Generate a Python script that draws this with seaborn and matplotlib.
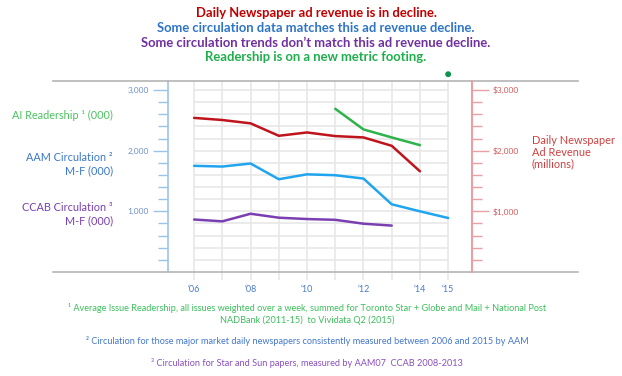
import numpy as np
import pandas as pd
import matplotlib
matplotlib.use("Agg")
import matplotlib.pyplot as plt
from matplotlib.ticker import FixedLocator
import seaborn as sns

# values (000s / $ millions, same scale)
years_adrev = [2006, 2007, 2008, 2009, 2010, 2011, 2012, 2013, 2014]
ad_revenue = [2540, 2505, 2450, 2245, 2300, 2240, 2218, 2080, 1660]

years_aam = [2006, 2007, 2008, 2009, 2010, 2011, 2012, 2013, 2014, 2015]
aam_circ = [1750, 1738, 1788, 1529, 1610, 1595, 1540, 1116, 1000, 890]

years_ccab = [2006, 2007, 2008, 2009, 2010, 2011, 2012, 2013]
ccab_circ = [865, 835, 960, 895, 873, 860, 796, 765]

years_read = [2011, 2012, 2013, 2014]
readership = [2690, 2350, 2218, 2091]

years_vivi = [2015]
readership_vivi = [3260]

year_ticks = [2006, 2007, 2008, 2009, 2010, 2011, 2012, 2013, 2014, 2015]
year_labels = ["\u201806", "", "\u201808", "", "\u201810", "", "\u201812", "", "\u201814", "\u201815"]
left_major = [1000, 2000, 3000]
left_labels = ["1,000", "2,000", "3,000"]
right_labels = ["$1,000", "$2,000", "$3,000"]

titles = [
    ("Daily Newspaper ad revenue is in decline.", "#c00000"),
    ("Some circulation data matches this ad revenue decline.", "#2e75c6"),
    ("Some circulation trends don\u2019t match this ad revenue decline.", "#7030a0"),
    ("Readership is on a new metric footing.", "#1fae4b"),
]
footnotes = [
    "\u00b9 Average Issue Readership, all issues weighted over a week, summed for Toronto Star + Globe and Mail + National Post\n"
    "NADBank (2011-15)  to Vividata Q2 (2015)",
    "\u00b2 Circulation for those major market daily newspapers consistently measured between 2006 and 2015 by AAM",
    "\u00b3 Circulation for Star and Sun papers, measured by AAM07  CCAB 2008-2013",
]

sns.set_theme(style="white")
plt.rcParams["font.family"] = ["Lato", "DejaVu Sans"]

W, H = 622, 376
fig = plt.figure(figsize=(W / 100, H / 100), dpi=100)


def fx(x):
    return x / W


def fy(y):
    return 1 - y / H


ax = fig.add_axes([fx(53), fy(272), 525 / W, 191 / H])
ax.set_xlim(2001.0, 2019.6)
ax.set_ylim(0, 3148)

# grid
grid_c = "#e6e6e6"
ax.hlines(np.arange(200, 3001, 200), 2006, 2015, color=grid_c, lw=1.1, zorder=0)
ax.vlines(year_ticks, -132, 3148, color=grid_c, lw=1.1, zorder=0, clip_on=False)

# series
sns.lineplot(x=years_adrev, y=ad_revenue, ax=ax, color="#c0141c", lw=1.8, zorder=3)
sns.lineplot(x=years_aam, y=aam_circ, ax=ax, color="#1fa5ef", lw=1.8, zorder=3)
sns.lineplot(x=years_ccab, y=ccab_circ, ax=ax, color="#7a3fb0", lw=1.8, zorder=3)
sns.lineplot(x=years_read, y=readership, ax=ax, color="#2db34a", lw=1.8, zorder=3)
sns.scatterplot(x=years_vivi, y=readership_vivi, ax=ax, color="#12924f", s=18,
                edgecolor="none", clip_on=False, zorder=4)

# spines
for s in ["top", "bottom"]:
    ax.spines[s].set_color("#b4b4b4")
    ax.spines[s].set_linewidth(1.2)
ax.spines["right"].set_visible(False)
ax.spines["left"].set_position(("data", 2005.08))
ax.spines["left"].set_color("#9dc3e6")
ax.spines["left"].set_linewidth(1.2)

ax.set_xticks(year_ticks)
ax.set_xticklabels(year_labels)
ax.tick_params(axis="x", length=0, pad=9, labelsize=6.5, labelcolor="#4a7bc8")

ax.yaxis.set_major_locator(FixedLocator(left_major))
ax.yaxis.set_minor_locator(FixedLocator([v for v in range(200, 3001, 200) if v not in left_major]))
ax.set_yticklabels(left_labels)
ax.tick_params(axis="y", which="major", left=True, length=11, width=1, color="#9dc3e6",
               labelsize=6, labelcolor="#6f90cc", pad=3)
ax.tick_params(axis="y", which="minor", left=True, length=7, width=1, color="#9dc3e6")
ax.set_xlabel("")
ax.set_ylabel("")

ax2 = ax.twinx()
ax2.set_ylim(ax.get_ylim())
for s in ["top", "bottom", "left"]:
    ax2.spines[s].set_visible(False)
ax2.spines["right"].set_position(("data", 2015.85))
ax2.spines["right"].set_color("#e8a0a4")
ax2.spines["right"].set_linewidth(1.5)
ax2.yaxis.set_major_locator(FixedLocator(left_major))
ax2.yaxis.set_minor_locator(FixedLocator([v for v in range(200, 3001, 200) if v not in left_major]))
ax2.set_yticklabels(right_labels)
ax2.tick_params(axis="y", which="major", right=True, length=12, width=1, color="#e8a0a4",
                labelsize=6, labelcolor="#d05a5a", pad=3)
ax2.tick_params(axis="y", which="minor", right=True, length=7, width=1, color="#e8a0a4")
ax2.grid(False)

# titles
for (txt, c), y in zip(titles, [13, 28, 43, 57]):
    fig.text(fx(316), fy(y), txt, ha="center", va="center", color=c,
             fontsize=9.4, fontweight="bold")

# axis captions
lab_kw = dict(ha="right", va="center", fontsize=7.8, linespacing=1.2)
fig.text(fx(113), fy(115), "AI Readership \u00b9 (000)", color="#4cc261", **lab_kw)
fig.text(fx(113), fy(164), "AAM Circulation \u00b2\nM-F (000)", color="#3b78c8", **lab_kw)
fig.text(fx(113), fy(214), "CCAB Circulation \u00b3\nM-F (000)", color="#7a3fb0", **lab_kw)
fig.text(fx(532), fy(152), "Daily Newspaper\nAd Revenue\n(millions)", ha="left", va="center",
         fontsize=7.9, linespacing=1.1, color="#d04040")

# footnotes
fn_kw = dict(ha="center", va="center", fontsize=6.6)
fig.text(fx(307), fy(314), footnotes[0], color="#3cbf5c", linespacing=1.3, **fn_kw)
fig.text(fx(307), fy(341), footnotes[1], color="#4477cc", **fn_kw)
fig.text(fx(307), fy(363), footnotes[2], color="#8a4fc0", **fn_kw)

fig.savefig("out.png", dpi=100)
